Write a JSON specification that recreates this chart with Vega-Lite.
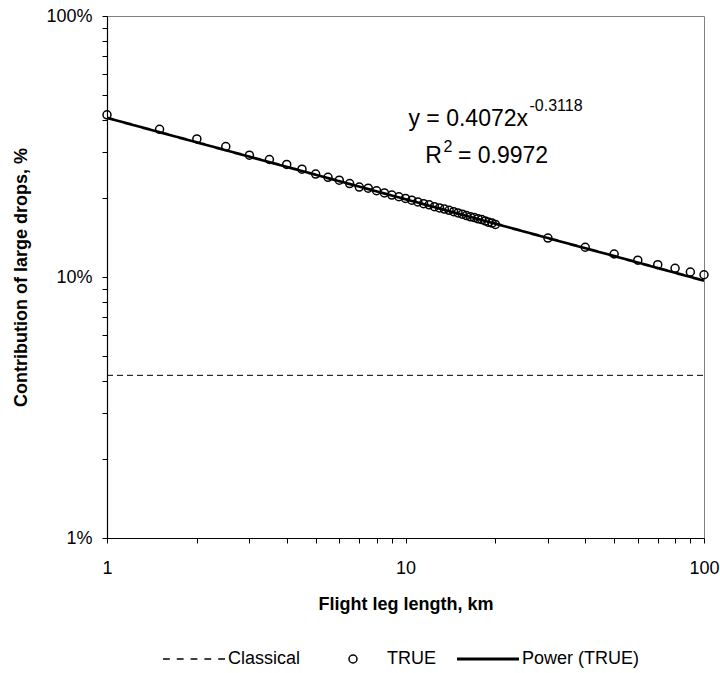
{
  "$schema": "https://vega.github.io/schema/vega-lite/v6.json",
  "width": 597,
  "height": 522,
  "autosize": {"type": "none"},
  "padding": {"left": 107, "top": 16, "right": 16, "bottom": 135},
  "background": "white",
  "config": {
    "view": {"stroke": "#808080", "strokeWidth": 1},
    "font": "Liberation Sans",
    "axis": {
      "domainColor": "black", "domainWidth": 1.2, "tickColor": "black", "tickSize": 5, "tickWidth": 1,
      "labelFont": "Liberation Sans", "labelFontSize": 18, "labelColor": "black",
      "titleFont": "Liberation Sans", "titleFontSize": 18, "titleFontWeight": "bold", "titleColor": "black",
      "grid": false, "labelOverlap": false, "labelFlush": false
    },
    "legend": {
      "orient": "none", "legendX": 51, "legendY": 634, "direction": "horizontal",
      "labelFont": "Liberation Sans", "labelFontSize": 18, "labelColor": "black",
      "symbolStrokeColor": "black", "symbolSize": 64, "symbolStrokeWidth": 1.5, "symbolOpacity": 1,
      "symbolOffset": 27, "labelOffset": 25, "columnPadding": 16
    }
  },
  "datasets": {
    "points": [
      {"x": 1, "y": 0.418, "series": "TRUE"},
      {"x": 1.5, "y": 0.368, "series": "TRUE"},
      {"x": 2, "y": 0.338, "series": "TRUE"},
      {"x": 2.5, "y": 0.316, "series": "TRUE"},
      {"x": 3, "y": 0.293, "series": "TRUE"},
      {"x": 3.5, "y": 0.282, "series": "TRUE"},
      {"x": 4, "y": 0.270, "series": "TRUE"},
      {"x": 4.5, "y": 0.259, "series": "TRUE"},
      {"x": 5, "y": 0.248, "series": "TRUE"},
      {"x": 5.5, "y": 0.241, "series": "TRUE"},
      {"x": 6, "y": 0.235, "series": "TRUE"},
      {"x": 6.5, "y": 0.228, "series": "TRUE"},
      {"x": 7, "y": 0.221, "series": "TRUE"},
      {"x": 7.5, "y": 0.219, "series": "TRUE"},
      {"x": 8, "y": 0.214, "series": "TRUE"},
      {"x": 8.5, "y": 0.210, "series": "TRUE"},
      {"x": 9, "y": 0.206, "series": "TRUE"},
      {"x": 9.5, "y": 0.203, "series": "TRUE"},
      {"x": 10, "y": 0.200, "series": "TRUE"},
      {"x": 10.5, "y": 0.197, "series": "TRUE"},
      {"x": 11, "y": 0.194, "series": "TRUE"},
      {"x": 11.5, "y": 0.191, "series": "TRUE"},
      {"x": 12, "y": 0.189, "series": "TRUE"},
      {"x": 12.5, "y": 0.186, "series": "TRUE"},
      {"x": 13, "y": 0.184, "series": "TRUE"},
      {"x": 13.5, "y": 0.182, "series": "TRUE"},
      {"x": 14, "y": 0.180, "series": "TRUE"},
      {"x": 14.5, "y": 0.178, "series": "TRUE"},
      {"x": 15, "y": 0.176, "series": "TRUE"},
      {"x": 15.5, "y": 0.174, "series": "TRUE"},
      {"x": 16, "y": 0.172, "series": "TRUE"},
      {"x": 16.5, "y": 0.170, "series": "TRUE"},
      {"x": 17, "y": 0.169, "series": "TRUE"},
      {"x": 17.5, "y": 0.167, "series": "TRUE"},
      {"x": 18, "y": 0.166, "series": "TRUE"},
      {"x": 18.5, "y": 0.164, "series": "TRUE"},
      {"x": 19, "y": 0.162, "series": "TRUE"},
      {"x": 19.5, "y": 0.161, "series": "TRUE"},
      {"x": 20, "y": 0.159, "series": "TRUE"},
      {"x": 30, "y": 0.141, "series": "TRUE"},
      {"x": 40, "y": 0.130, "series": "TRUE"},
      {"x": 50, "y": 0.1225, "series": "TRUE"},
      {"x": 60, "y": 0.116, "series": "TRUE"},
      {"x": 70, "y": 0.1115, "series": "TRUE"},
      {"x": 80, "y": 0.108, "series": "TRUE"},
      {"x": 90, "y": 0.1045, "series": "TRUE"},
      {"x": 100, "y": 0.102, "series": "TRUE"}
    ],
    "lines": [
      {"x": 1, "y": 0.042, "series": "Classical"},
      {"x": 100, "y": 0.042, "series": "Classical"},
      {"x": 1, "y": 0.4072, "series": "Power (TRUE)"},
      {"x": 2, "y": 0.328, "series": "Power (TRUE)"},
      {"x": 5, "y": 0.2465, "series": "Power (TRUE)"},
      {"x": 10, "y": 0.1986, "series": "Power (TRUE)"},
      {"x": 20, "y": 0.160, "series": "Power (TRUE)"},
      {"x": 30, "y": 0.141, "series": "Power (TRUE)"},
      {"x": 50, "y": 0.1203, "series": "Power (TRUE)"},
      {"x": 100, "y": 0.0968, "series": "Power (TRUE)"}
    ],
    "notes": [
      {"label": "annotation"}
    ]
  },
  "layer": [
    {
      "data": {"name": "lines"},
      "mark": {"type": "line", "color": "black"},
      "encoding": {
        "x": {
          "field": "x", "type": "quantitative",
          "scale": {"type": "log", "domain": [1, 100], "nice": false},
          "axis": {
            "title": "Flight leg length, km",
            "values": [1, 2, 3, 4, 5, 6, 7, 8, 9, 10, 20, 30, 40, 50, 60, 70, 80, 90, 100],
            "labelExpr": "datum.value == 1 || datum.value == 10 || datum.value == 100 ? format(datum.value, 'd') : ''",
            "labelPadding": 16, "titlePadding": 18
          }
        },
        "y": {
          "field": "y", "type": "quantitative",
          "scale": {"type": "log", "domain": [0.01, 1], "nice": false},
          "axis": {
            "title": "Contribution of large drops, %",
            "values": [0.01, 0.02, 0.03, 0.04, 0.05, 0.06, 0.07, 0.08, 0.09, 0.1, 0.2, 0.3, 0.4, 0.5, 0.6, 0.7, 0.8, 0.9, 1],
            "labelExpr": "datum.value == 0.01 || datum.value == 0.1 || datum.value == 1 ? format(datum.value, '.0%') : ''",
            "labelPadding": 10, "titlePadding": 15
          }
        },
        "strokeDash": {
          "field": "series", "type": "nominal",
          "scale": {"domain": ["Classical", "Power (TRUE)"], "range": [[6, 4], [1, 0]]},
          "legend": null
        },
        "strokeWidth": {
          "field": "series", "type": "nominal",
          "scale": {"type": "ordinal", "domain": ["Classical", "Power (TRUE)"], "range": [1, 2.7]},
          "legend": null
        }
      }
    },
    {
      "data": {"name": "points"},
      "mark": {"type": "point", "color": "black", "size": 64, "strokeWidth": 1.5, "opacity": 1},
      "encoding": {
        "x": {"field": "x", "type": "quantitative"},
        "y": {"field": "y", "type": "quantitative"},
        "shape": {
          "field": "series", "type": "nominal",
          "scale": {"domain": ["Classical", "TRUE", "Power (TRUE)"], "range": ["M-7.75,0H-6.05M-4.3,0H-2.6M-0.85,0H0.85M2.6,0H4.3M6.05,0H7.75", "circle", "M-7.75,-0.2H7.75M-7.75,-0.1H7.75M-7.75,0H7.75M-7.75,0.1H7.75M-7.75,0.2H7.75"]},
          "legend": {"title": null}
        }
      }
    },
    {
      "data": {"name": "notes"},
      "mark": {"type": "text", "align": "right", "baseline": "alphabetic", "fontSize": 23, "fill": "black", "font": "Liberation Sans"},
      "encoding": {"x": {"datum": 25.73, "type": "quantitative"}, "y": {"datum": 0.379, "type": "quantitative"}, "text": {"value": "y = 0.4072x"}}
    },
    {
      "data": {"name": "notes"},
      "mark": {"type": "text", "align": "left", "baseline": "alphabetic", "fontSize": 16, "fill": "black", "font": "Liberation Sans"},
      "encoding": {"x": {"datum": 26.03, "type": "quantitative"}, "y": {"datum": 0.433, "type": "quantitative"}, "text": {"value": "-0.3118"}}
    },
    {
      "data": {"name": "notes"},
      "mark": {"type": "text", "align": "right", "baseline": "alphabetic", "fontSize": 23, "fill": "black", "font": "Liberation Sans"},
      "encoding": {"x": {"datum": 13.25, "type": "quantitative"}, "y": {"datum": 0.2734, "type": "quantitative"}, "text": {"value": "R"}}
    },
    {
      "data": {"name": "notes"},
      "mark": {"type": "text", "align": "left", "baseline": "alphabetic", "fontSize": 16, "fill": "black", "font": "Liberation Sans"},
      "encoding": {"x": {"datum": 13.4, "type": "quantitative"}, "y": {"datum": 0.3012, "type": "quantitative"}, "text": {"value": "2"}}
    },
    {
      "data": {"name": "notes"},
      "mark": {"type": "text", "align": "left", "baseline": "alphabetic", "fontSize": 23, "fill": "black", "font": "Liberation Sans"},
      "encoding": {"x": {"datum": 14.99, "type": "quantitative"}, "y": {"datum": 0.2734, "type": "quantitative"}, "text": {"value": "= 0.9972"}}
    }
  ]
}
